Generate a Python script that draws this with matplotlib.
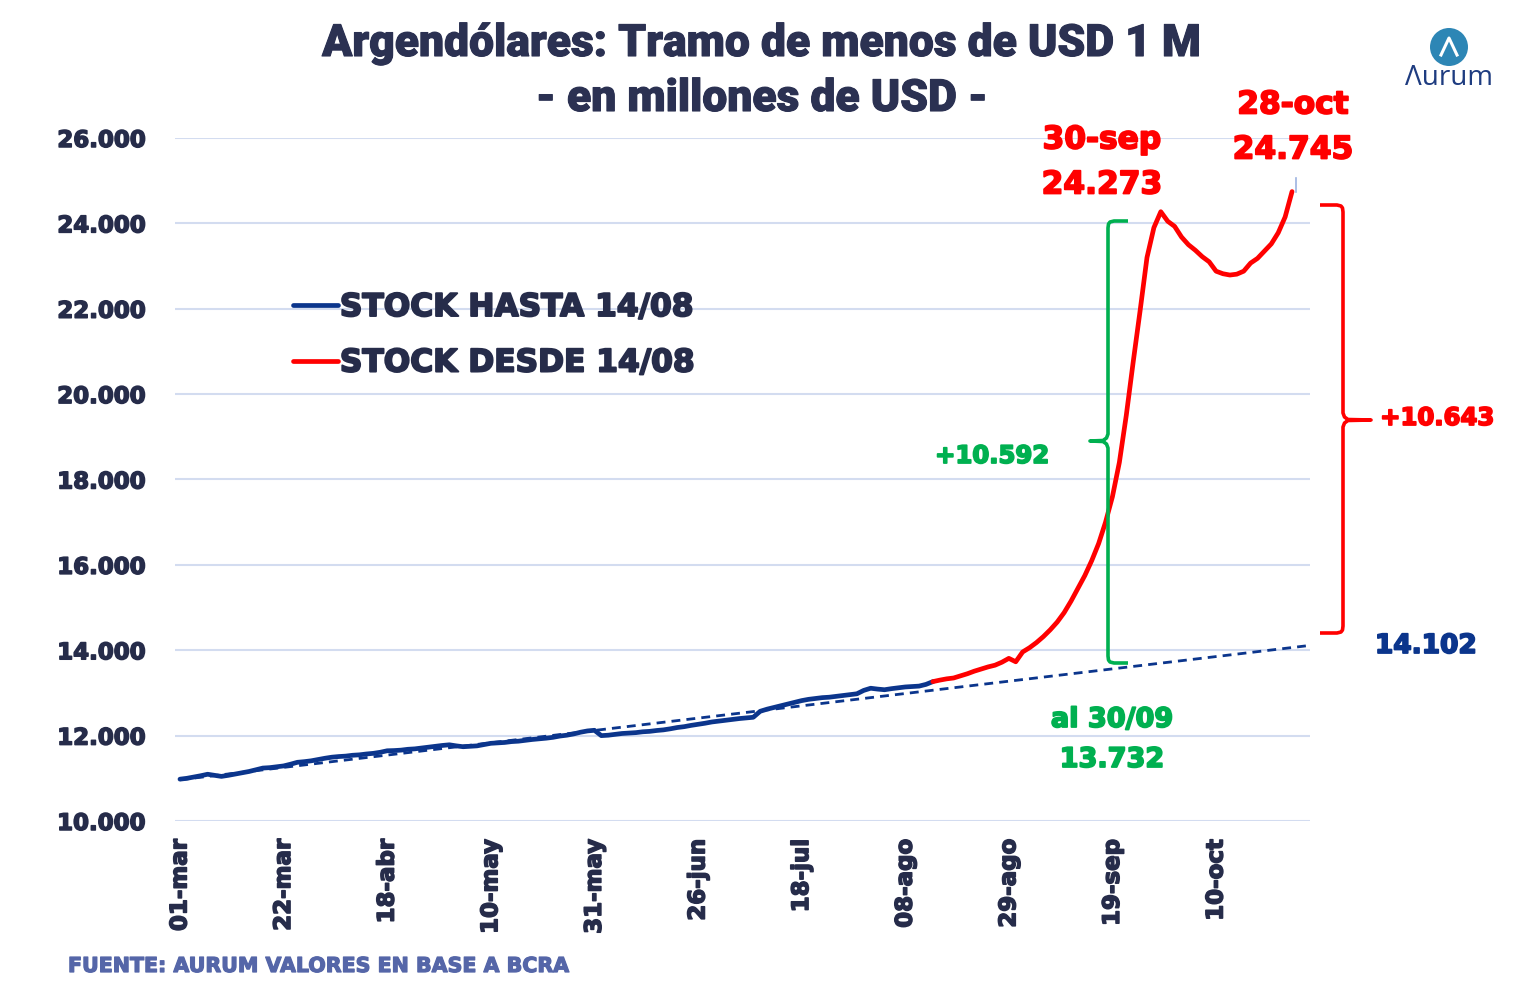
import matplotlib
matplotlib.use("Agg")
import matplotlib.pyplot as plt
import matplotlib.patheffects as pe
from matplotlib.patches import Ellipse

# ---------------- data ----------------
tick_labels = ["01-mar", "22-mar", "18-abr", "10-may", "31-may", "26-jun",
               "18-jul", "08-ago", "29-ago", "19-sep", "10-oct"]
tick_step = 15  # business days between labelled ticks

stock = [
    10980, 11000, 11030, 11060, 11095, 11070, 11045, 11070, 11100, 11130,
    11160, 11200, 11240, 11250, 11270, 11290, 11330, 11375, 11390, 11410,
    11440, 11470, 11495, 11510, 11520, 11540, 11550, 11570, 11585, 11610,
    11645, 11650, 11660, 11680, 11690, 11710, 11730, 11750, 11770, 11785,
    11760, 11740, 11750, 11760, 11790, 11820, 11830, 11840, 11860, 11870,
    11890, 11910, 11925, 11940, 11960, 11990, 12010, 12040, 12080, 12110,
    12125, 12000, 12010, 12030, 12050, 12060, 12070, 12090, 12100, 12120,
    12135, 12160, 12190, 12210, 12240, 12265, 12290, 12320, 12340, 12360,
    12380, 12400, 12415, 12430, 12570, 12620, 12660, 12700, 12740, 12780,
    12820, 12850, 12870, 12890, 12900, 12920, 12940, 12960, 12980, 13060,
    13110, 13090, 13075, 13100, 13120, 13140, 13150, 13160, 13200, 13265,
    13300, 13330, 13350, 13400, 13450, 13510, 13560, 13610, 13650, 13720,
    13810, 13730, 13960, 14060, 14180, 14320, 14480, 14660, 14880, 15150,
    15450, 15750, 16100, 16500, 17000, 17600, 18400, 19500, 20750, 21950,
    23200, 23900, 24273, 24050, 23930, 23680, 23500, 23370, 23220, 23100,
    22880, 22820, 22790, 22810, 22880, 23070, 23180, 23350, 23520, 23780,
    24150, 24745,
]
split_idx = 109            # 14/08
peak_idx = 142             # 30-sep
trend_start = 10967
trend_end = 14102
trend_end_idx = 163
label_hasta = "STOCK HASTA 14/08"
label_desde = "STOCK DESDE 14/08"
y_ticks = [10000, 12000, 14000, 16000, 18000, 20000, 22000, 24000, 26000]

# ---------------- style ----------------
NAVY = "#0B358C"
RED = "#FF0000"
GREEN = "#00B050"
TXT = "#262C4A"
GRID = "#D3DCF0"
HEAVY = "DejaVu Sans"


def heavy(color, w=1.1):
    return [pe.withStroke(linewidth=w, foreground=color)]


W, H = 1526, 999
fig = plt.figure(figsize=(W / 100, H / 100), dpi=100)
ax = fig.add_axes([175 / W, 1 - 821 / H, (1310 - 175) / W, (821 - 138) / H])

n = len(stock)
x_all = list(range(n))
ax.plot(x_all[:split_idx + 1], stock[:split_idx + 1], color=NAVY, lw=3.4,
        solid_capstyle="round", label=label_hasta, zorder=4)
ax.plot(x_all[split_idx:], stock[split_idx:], color=RED, lw=3.4,
        solid_capstyle="round", label=label_desde, zorder=4)
ax.plot([0, trend_end_idx], [trend_start, trend_end], color=NAVY, lw=2.0,
        ls=(0, (3.2, 2.2)), zorder=3)

ax.set_xlim(-0.72, 163.6)
ax.set_ylim(10000, 26000)
ax.set_yticks(y_ticks)
ax.set_yticklabels([f"{v:,}".replace(",", ".") for v in y_ticks])
ax.set_xticks([i * tick_step for i in range(len(tick_labels))])
ax.set_xticklabels(tick_labels, rotation=90)
ax.grid(axis="y", color=GRID, lw=1.5)
ax.grid(axis="x", visible=False)
for s in ax.spines.values():
    s.set_visible(False)
ax.tick_params(axis="both", length=0, colors=TXT)
ax.tick_params(axis="y", pad=21)
ax.tick_params(axis="x", pad=13)
for t in ax.get_yticklabels() + ax.get_xticklabels():
    t.set_fontfamily(HEAVY)
    t.set_fontweight("bold")
    t.set_fontsize(16.5)
    t.set_color(TXT)
    t.set_path_effects(heavy(TXT))
ax.set_axisbelow(True)

leg = ax.legend(loc="upper left", bbox_to_anchor=((293 - 175) / 1135, (821 - 293) / 683),
                frameon=False, handlelength=1.45, handletextpad=0.05,
                borderpad=0, borderaxespad=0, labelspacing=0.85,
                prop={"family": HEAVY, "weight": "bold", "size": 22.5})
for t in leg.get_texts():
    t.set_color(TXT)
    t.set_path_effects(heavy(TXT, 1.4))

# ---------------- title ----------------
title_kw = dict(ha="center", va="center", fontsize=32, fontweight=900,
                family="Roboto", color="#2B3152")
fig.text(762 / W, 1 - 44 / H, "Argendólares: Tramo de menos de USD 1 M",
         path_effects=heavy("#2B3152", 0.8), **title_kw)
fig.text(762 / W, 1 - 99 / H, "- en millones de USD -",
         path_effects=heavy("#2B3152", 0.8), **title_kw)

# ---------------- annotations ----------------
ann = dict(family=HEAVY, fontweight="bold", fontsize=22.5, ha="center", va="center")


def note(x, y, s, color, **kw):
    d = dict(ann)
    d.update(kw)
    fig.text(x / W, 1 - y / H, s, color=color, path_effects=heavy(color, 1.3), **d)


note(1102, 140, "30-sep", RED)
note(1102, 185, f"{stock[peak_idx]:,}".replace(",", "."), RED)
note(1293, 105, "28-oct", RED)
note(1293, 150, f"{stock[-1]:,}".replace(",", "."), RED)
note(1426, 646, f"{trend_end:,}".replace(",", "."), NAVY, fontsize=19)
note(1112, 720, "al 30/09", GREEN, fontsize=19.5)
note(1112, 760, "13.732", GREEN, fontsize=19.5)
note(992, 456, "+10.592", GREEN, fontsize=17.5)
note(1437, 418, "+10.643", RED, fontsize=17.5)


def bracket(xv, ytop, ybot, ymid, end_dx, mid_dx, color):
    sx = 1 if end_dx > 0 else -1
    sm = 1 if mid_dx > 0 else -1
    xs = [xv + end_dx, xv + sx * 6, xv + sx * 2, xv + sx * 0.5, xv,
          xv, xv + sm * 1.5, xv + sm * 5, xv + mid_dx,
          xv + sm * 5, xv + sm * 1.5, xv,
          xv, xv + sx * 0.5, xv + sx * 2, xv + sx * 6, xv + end_dx]
    ys = [ytop, ytop, ytop + 1, ytop + 3, ytop + 7,
          ymid - 7, ymid - 3, ymid - 0.5, ymid,
          ymid + 0.5, ymid + 3, ymid + 7,
          ybot - 7, ybot - 3, ybot - 1, ybot, ybot]
    fig.lines.append(plt.Line2D([x / W for x in xs], [1 - y / H for y in ys],
                                transform=fig.transFigure, color=color, lw=2.6,
                                solid_joinstyle="round", solid_capstyle="butt"))


bracket(1108, 221, 663, 441, 20, -18, GREEN)
bracket(1343, 205, 633, 420, -23, 28, RED)

# small leader at the end of the red line
fig.lines.append(plt.Line2D([1296 / W, 1296 / W], [1 - 178 / H, 1 - 192 / H],
                            transform=fig.transFigure, color="#9DB3E0", lw=1.2))

# source
fig.text(68 / W, 1 - 966 / H, "FUENTE: AURUM VALORES EN BASE A BCRA",
         ha="left", va="center", family=HEAVY, fontweight="bold",
         fontsize=14.8, color="#5566A8", path_effects=heavy("#5566A8", 0.9))

# logo
logo = Ellipse((1449 / W, 1 - 47 / H), 38 / W, 38 / H, transform=fig.transFigure,
               facecolor="#2D86B5", edgecolor="none")
fig.patches.append(logo)
fig.lines.append(plt.Line2D([1441 / W, 1449 / W, 1457 / W],
                            [1 - 55 / H, 1 - 38 / H, 1 - 55 / H],
                            transform=fig.transFigure, color="white", lw=2.2,
                            solid_joinstyle="round"))
fig.text(1449 / W, 1 - 78 / H, "Λurum", ha="center", va="center",
         family="Open Sans", fontsize=20, color="#1E3C80")

fig.savefig("out.png", dpi=100)
